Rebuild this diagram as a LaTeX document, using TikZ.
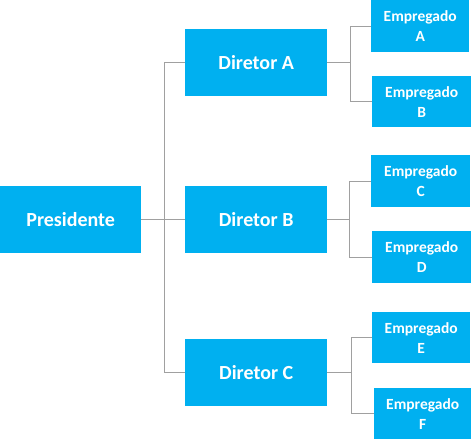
\documentclass[tikz,border=0pt]{standalone}
\usepackage{fontspec}
\setmainfont{Carlito}
\definecolor{boxblue}{RGB}{0,176,240}
\definecolor{linegray}{RGB}{160,160,160}
\begin{document}
\begin{tikzpicture}[x=1pt,y=-1pt,
  orgbox/.style={fill=boxblue,draw=none,text=white,font=\bfseries,inner sep=0pt,anchor=north west},
  bigbox/.style={orgbox,font=\fontsize{20}{24}\selectfont\bfseries},
  smallbox/.style={orgbox,font=\fontsize{15.5}{20}\selectfont\bfseries,align=center},
  conn/.style={draw=linegray,line width=1pt}]
\useasboundingbox (0,0) rectangle (474,444);
\node[bigbox,minimum width=141pt,minimum height=67pt] (pres) at (0,186) {Presidente};
\node[bigbox,minimum width=142pt,minimum height=67pt] (da) at (185,29) {Diretor A};
\node[bigbox,minimum width=142pt,minimum height=67pt] (db) at (185,186) {Diretor B};
\node[bigbox,minimum width=142pt,minimum height=67pt] (dc) at (185,339) {Diretor C};
\node[smallbox,minimum width=98pt,minimum height=52pt] (ea) at (371,0) {Empregado\\A};
\node[smallbox,minimum width=99pt,minimum height=51pt] (eb) at (372,76) {Empregado\\B};
\node[smallbox,minimum width=99pt,minimum height=52pt] (ec) at (371,155) {Empregado\\C};
\node[smallbox,minimum width=99pt,minimum height=52pt] (ed) at (372,231) {Empregado\\D};
\node[smallbox,minimum width=98pt,minimum height=51pt] (ee) at (372,312) {Empregado\\E};
\node[smallbox,minimum width=97pt,minimum height=51pt] (ef) at (374,388) {Empregado\\F};
\coordinate (t0) at (164,0);
\coordinate (ta) at (350,0);
\coordinate (tc) at (349,0);
\coordinate (te) at (351,0);
% president trunk
\draw[conn] (pres.east) -- (db.west);
\draw[conn] (da.west) -- (da.west -| t0) -- (dc.west -| t0) -- (dc.west);
% director A
\draw[conn] (da.east) -- (da.east -| ta);
\draw[conn] (ea.west) -- (ea.west -| ta) -- (eb.west -| ta) -- (eb.west);
% director B
\draw[conn] (db.east) -- (db.east -| tc);
\draw[conn] (ec.west) -- (ec.west -| tc) -- (ed.west -| tc) -- (ed.west);
% director C
\draw[conn] (dc.east) -- (dc.east -| te);
\draw[conn] (ee.west) -- (ee.west -| te) -- (ef.west -| te) -- (ef.west);
\end{tikzpicture}
\end{document}
